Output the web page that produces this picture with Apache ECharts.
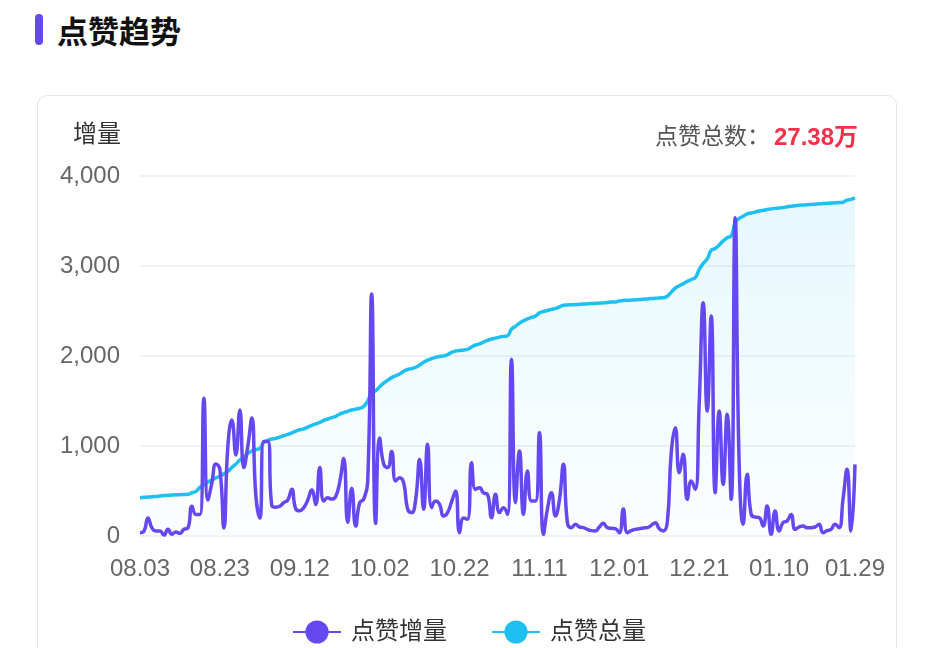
<!DOCTYPE html>
<html>
<head>
<meta charset="utf-8">
<title>点赞趋势</title>
<script src="https://cdn.jsdelivr.net/npm/echarts@6/dist/echarts.min.js"></script>
<style>
  html, body { margin: 0; padding: 0; background: #fff; width: 938px; height: 648px; overflow: hidden; }
  body { font-family: 'Noto Sans CJK SC', sans-serif; position: relative; }
  .head-bar { position: absolute; left: 35px; top: 14px; width: 8px; height: 31px; border-radius: 4px; background: #6548f0; }
  .head { position: absolute; left: 57px; top: 9px; font-size: 31px; font-weight: bold; color: #111; line-height: 42px; }
  .card { position: absolute; left: 37px; top: 95px; width: 860px; height: 620px; border: 1px solid #e6e6e6; border-radius: 10px; box-sizing: border-box; }
  #chart { position: absolute; left: 0; top: 0; width: 938px; height: 648px; }
</style>
</head>
<body>
<div class="head-bar"></div>
<div class="head">点赞趋势</div>
<div class="card"></div>
<div id="chart"></div>

<script>
// 日期 08.03 ~ 01.29，共180天
var startDay = new Date(2023, 7, 3);
var dayCount = 180;

// 点赞增量（每日）
var likeIncrease = [
  37, 55, 200, 90, 55, 55, 10, 75, 20, 45,
  30, 75, 90, 330, 240, 240, 1530, 400, 590, 800,
  740, 90, 1000, 1290, 900, 1400, 760, 1000, 1310, 450,
  200, 1050, 1050, 340, 320, 330, 370, 400, 520, 300,
  280, 315, 400, 510, 350, 760, 390, 425, 410, 440,
  600, 860, 150, 530, 110, 370, 410, 600, 2690, 140,
  1090, 800, 760, 940, 611, 648, 593, 300, 260, 400,
  850, 296, 1019, 315, 389, 352, 222, 260, 380, 500,
  37, 200, 185, 815, 518, 537, 480, 463, 204, 463,
  260, 315, 240, 1963, 370, 944, 240, 722, 389, 389,
  1148, 19, 300, 481, 222, 400, 796, 148, 93, 130,
  100, 93, 74, 60, 56, 100, 141, 93, 85, 81,
  37, 300, 37, 60, 74, 80, 90, 93, 120, 148,
  80, 56, 148, 926, 1204, 704, 907, 407, 611, 518,
  1481, 2593, 1389, 2444, 481, 1389, 574, 1352, 407, 3537,
  800, 130, 685, 240, 210, 204, 111, 333, 19, 278,
  56, 150, 167, 240, 74, 100, 111, 93, 93, 100,
  130, 37, 60, 74, 130, 93, 407, 741, 56, 796
];

// 点赞总量（万）
var likeTotal = [
  3.10, 3.13, 3.15, 3.18, 3.20, 3.24, 3.28, 3.29, 3.31, 3.33,
  3.34, 3.36, 3.37, 3.50, 3.61, 3.93, 4.15, 4.37, 4.55, 4.70,
  4.84, 5.03, 5.24, 5.54, 5.83, 6.15, 6.41, 6.70, 6.88, 6.99,
  7.10, 7.58, 7.74, 7.85, 7.90, 8.01, 8.12, 8.22, 8.34, 8.49,
  8.60, 8.67, 8.81, 8.96, 9.07, 9.19, 9.36, 9.47, 9.58, 9.69,
  9.87, 9.99, 10.09, 10.20, 10.27, 10.34, 10.49, 10.93, 11.58, 11.76,
  12.09, 12.38, 12.60, 12.82, 12.97, 13.11, 13.33, 13.48, 13.55, 13.66,
  13.84, 14.06, 14.24, 14.35, 14.46, 14.53, 14.58, 14.68, 14.86, 14.97,
  15.02, 15.06, 15.11, 15.30, 15.46, 15.55, 15.70, 15.84, 15.95, 16.02,
  16.10, 16.16, 16.21, 16.75, 16.97, 17.23, 17.41, 17.57, 17.69, 17.80,
  18.06, 18.17, 18.25, 18.34, 18.41, 18.54, 18.68, 18.70, 18.72, 18.73,
  18.76, 18.77, 18.79, 18.81, 18.83, 18.85, 18.87, 18.90, 18.94, 18.95,
  19.03, 19.07, 19.08, 19.10, 19.12, 19.14, 19.16, 19.19, 19.22, 19.24,
  19.27, 19.29, 19.41, 19.74, 20.07, 20.25, 20.43, 20.61, 20.76, 20.92,
  21.56, 22.07, 22.43, 23.13, 23.27, 23.56, 23.89, 24.15, 24.29, 25.35,
  25.71, 25.89, 26.08, 26.15, 26.22, 26.31, 26.37, 26.43, 26.48, 26.52,
  26.55, 26.59, 26.65, 26.70, 26.73, 26.77, 26.79, 26.81, 26.84, 26.86,
  26.89, 26.91, 26.93, 26.95, 26.97, 26.99, 27.02, 27.19, 27.25, 27.38
];

var seriesNames = ['点赞增量', '点赞总量'];
var totalText = '27.38万';

function pad(n) { return n < 10 ? '0' + n : '' + n; }
var dates = [];
for (var i = 0; i < dayCount; i++) {
  var d = new Date(startDay.getFullYear(), startDay.getMonth(), startDay.getDate() + i);
  dates.push(pad(d.getMonth() + 1) + '.' + pad(d.getDate()));
}

var font = "'Liberation Sans', 'Noto Sans CJK SC', sans-serif";
var chart = echarts.init(document.getElementById('chart'));

var option = {
  animation: false,
  textStyle: { fontFamily: font },
  title: [
    {
      text: '增量',
      left: 73,
      top: 123,
      padding: 0,
      textStyle: { fontSize: 24, fontWeight: 'normal', color: '#333', fontFamily: font }
    },
    {
      text: '点赞总数：{v|' + totalText + '}',
      right: 80,
      top: 126,
      padding: 0,
      textStyle: {
        fontSize: 23, fontWeight: 'normal', color: '#555', fontFamily: font,
        rich: { v: { fontSize: 24, fontWeight: 'bold', color: '#f5304a', fontFamily: font, padding: [0, 0, 0, 4] } }
      }
    }
  ],
  legend: {
    data: seriesNames,
    left: 'center',
    top: 615,
    itemWidth: 48,
    itemHeight: 29,
    itemGap: 44,
    lineStyle: { width: 2 },
    textStyle: { fontSize: 24, color: '#333', fontFamily: font, padding: [0, 0, 0, 5] }
  },
  grid: { left: 140, right: 83, top: 176, bottom: 112 },
  xAxis: {
    type: 'category',
    boundaryGap: false,
    data: dates,
    axisLine: { show: false },
    axisTick: { show: false },
    axisLabel: {
      color: '#666',
      fontSize: 24,
      margin: 21,
      interval: function (idx) { return idx % 20 === 0 || idx === dayCount - 1; }
    }
  },
  yAxis: [
    {
      type: 'value',
      min: 0,
      max: 4000,
      interval: 1000,
      axisLine: { show: false },
      axisTick: { show: false },
      axisLabel: { color: '#666', fontSize: 24, margin: 20 },
      splitLine: { lineStyle: { color: '#eeeeee', width: 1.5 } }
    },
    {
      type: 'value',
      min: 0,
      max: 29.14,
      show: false,
      splitLine: { show: false }
    }
  ],
  series: [
    {
      name: seriesNames[1],
      type: 'line',
      yAxisIndex: 1,
      data: likeTotal,
      smooth: true,
      symbol: 'circle',
      showSymbol: false,
      lineStyle: { color: '#1ec0f2', width: 3.5 },
      itemStyle: { color: '#1ec0f2' },
      areaStyle: {
        color: new echarts.graphic.LinearGradient(0, 0, 0, 1, [
          { offset: 0, color: 'rgba(30,192,242,0.16)' },
          { offset: 1, color: 'rgba(30,192,242,0.02)' }
        ])
      }
    },
    {
      name: seriesNames[0],
      type: 'line',
      yAxisIndex: 0,
      data: likeIncrease,
      smooth: true,
      symbol: 'circle',
      showSymbol: false,
      lineStyle: { color: '#6548f0', width: 3.5 },
      itemStyle: { color: '#6548f0' }
    }
  ]
};

chart.setOption(option);
</script>
</body>
</html>
